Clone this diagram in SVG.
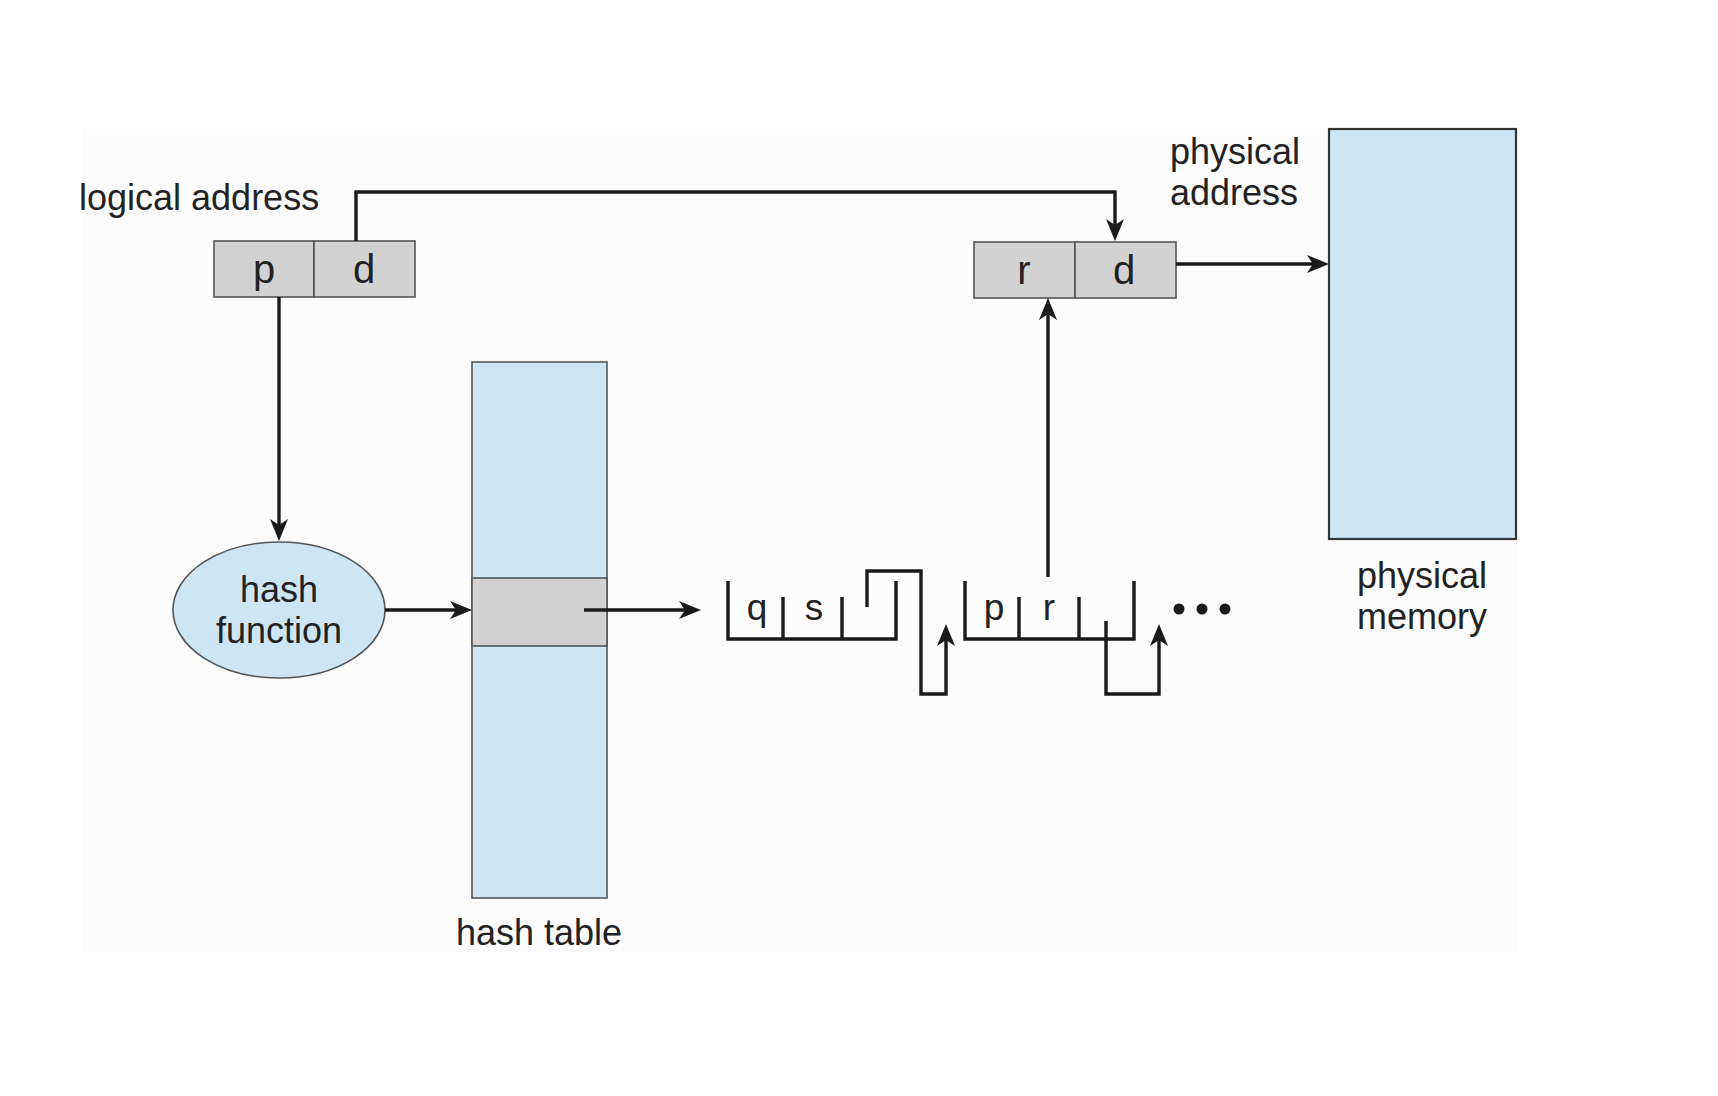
<svg xmlns="http://www.w3.org/2000/svg" width="1718" height="1096" viewBox="0 0 1718 1096">
<style>
text{font-family:"Liberation Sans",Arial,sans-serif;fill:#222;}
.lbl{font-size:36px;}
.cell{font-size:40px;text-anchor:middle;}
.li{font-size:37px;text-anchor:middle;}
.box{fill:#d2d2d2;stroke:#555;stroke-width:1.6;}
.blue{fill:#cde6f6;stroke:#555;stroke-width:1.6;}
.con{fill:none;stroke:#1a1a1a;stroke-width:3.4;}
.arr{marker-end:url(#ah);}
</style>
<defs>
<marker id="ah" viewBox="0 0 22 18" refX="10" refY="9" markerWidth="22" markerHeight="18" markerUnits="userSpaceOnUse" orient="auto">
<path d="M0,0 L22,9 L0,18 L6,9 z" fill="#1a1a1a"/>
</marker>
</defs>
<rect width="1718" height="1096" fill="#ffffff"/>
<rect x="82" y="129" width="1436" height="824" fill="#fcfcfc"/>

<g id="logical-address">
<text class="lbl" x="79" y="210">logical address</text>
<rect class="box" x="214" y="241" width="100" height="56"/>
<rect class="box" x="314" y="241" width="101" height="56"/>
<text class="cell" x="264" y="283">p</text>
<text class="cell" x="364" y="283">d</text>
</g>

<g id="physical-address">
<text class="lbl" x="1170" y="164">physical</text>
<text class="lbl" x="1170" y="205">address</text>
<rect class="box" x="974" y="242" width="101" height="56"/>
<rect class="box" x="1075" y="242" width="101" height="56"/>
<text class="cell" x="1024" y="284">r</text>
<text class="cell" x="1124" y="284">d</text>
</g>

<g id="physical-memory">
<rect x="1329" y="129" width="187" height="410" fill="#cde6f6" stroke="#333" stroke-width="2.2"/>
<text class="lbl" x="1422" y="588" text-anchor="middle">physical</text>
<text class="lbl" x="1422" y="629" text-anchor="middle">memory</text>
</g>

<g id="hash-function">
<ellipse class="blue" cx="279" cy="610" rx="106" ry="68"/>
<text class="lbl" x="279" y="602" text-anchor="middle">hash</text>
<text class="lbl" x="279" y="643" text-anchor="middle">function</text>
</g>

<g id="hash-table">
<rect class="blue" x="472" y="362" width="135" height="536"/>
<rect class="box" x="472" y="578" width="135" height="68"/>
<text class="lbl" x="539" y="945" text-anchor="middle">hash table</text>
</g>

<g id="list-node-1">
<path class="con" d="M728,581 V639 H896 V581 M783,597 V639 M842,597 V639"/>
<text class="li" x="757" y="620">q</text>
<text class="li" x="814" y="620">s</text>
</g>

<g id="list-node-2">
<path class="con" d="M965,581 V639 H1134 V581 M1019,597 V639 M1079,597 V639"/>
<text class="li" x="994" y="620">p</text>
<text class="li" x="1049" y="620">r</text>
</g>

<g id="ellipsis" fill="#1a1a1a">
<circle cx="1179" cy="609" r="5.5"/>
<circle cx="1202" cy="609" r="5.5"/>
<circle cx="1225" cy="609" r="5.5"/>
</g>

<g id="connectors">
<path class="con arr" d="M356,241 V192 H1115 V229"/>
<path class="con arr" d="M279,297 V529"/>
<path class="con arr" d="M385,610 H460"/>
<path class="con arr" d="M584,610 H689"/>
<path class="con arr" d="M1048,577 V310"/>
<path class="con arr" d="M1176,264 H1317"/>
<path class="con arr" d="M867,607 V571 H921 V694 H946 V636"/>
<path class="con arr" d="M1106,621 V694 H1159 V636"/>
</g>
</svg>
